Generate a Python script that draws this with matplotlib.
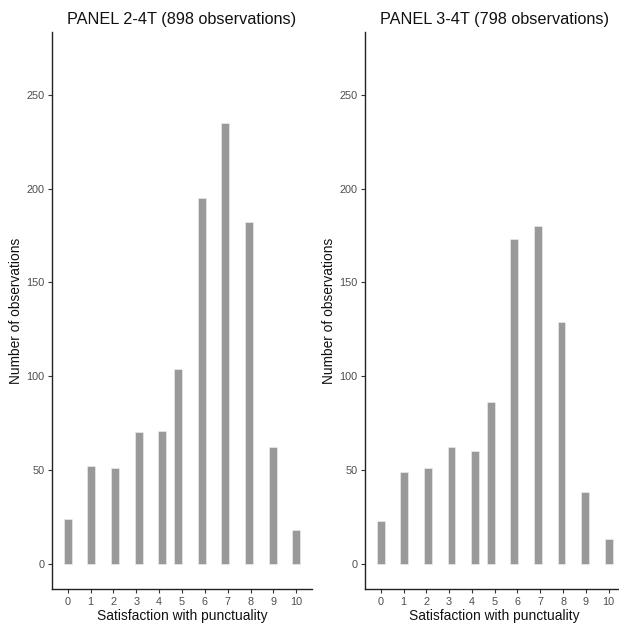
import numpy as np
import matplotlib
matplotlib.use('Agg')
import matplotlib.pyplot as plt

plt.rcParams['font.family'] = ['Liberation Sans', 'DejaVu Sans']

# satisfaction scores and counts per panel
scores = [0, 1, 2, 3, 4, 5, 6, 7, 8, 9, 10]
counts_p2 = [24, 52, 51, 70, 71, 104, 195, 235, 182, 62, 18]
counts_p3 = [23, 49, 51, 62, 60, 86, 173, 180, 129, 38, 13]
titles = ["PANEL 2-4T (898 observations)", "PANEL 3-4T (798 observations)"]
yticks = [0, 50, 100, 150, 200, 250]


def hist_centers(x, bins=30):
    # ggplot-style binning: 30 bins, right-closed, centred on the range ends
    x = np.asarray(x, dtype=float)
    bw = (x.max() - x.min()) / (bins - 1)
    k = np.ceil(np.round(x / bw - 0.5, 9))
    return k * bw, bw


W, H = 619, 624
fig = plt.figure(figsize=(W / 100, H / 100), dpi=100)

# axes boxes in pixels: (left, right)
boxes = [(52, 312), (365, 624.4)]
bottom, top = 589, 32

for (x0, x1), counts, title in zip(boxes, [counts_p2, counts_p3], titles):
    ax = fig.add_axes([x0 / W, (H - bottom) / H, (x1 - x0) / W, (bottom - top) / H])
    centers, bw = hist_centers(scores)
    ax.bar(centers, counts, width=bw, color='#999999', edgecolor='#f2f2f2', linewidth=0.4)

    lo, hi = centers.min() - bw / 2, centers.max() + bw / 2
    pad = (hi - lo) * 0.05
    ax.set_xlim(lo - pad, hi + pad)
    ax.set_ylim(-13.5, 283.5)
    ax.set_xticks(scores)
    ax.set_yticks(yticks)

    for side in ['top', 'right']:
        ax.spines[side].set_visible(False)
    for side in ['left', 'bottom']:
        ax.spines[side].set_color('#222222')
        ax.spines[side].set_linewidth(1.0)
    ax.tick_params(axis='both', colors='#333333', labelcolor='#4d4d4d',
                   labelsize=7.8, length=3, width=0.8, pad=2.5)

    ax.set_xlabel("Satisfaction with punctuality", fontsize=9.9, color='#111111', labelpad=1.5)
    ax.set_ylabel("Number of observations", fontsize=9.9, color='#111111', labelpad=2)
    ax.set_title(title, fontsize=11.7, color='#111111', pad=6)

fig.savefig("out.png", dpi=100)
